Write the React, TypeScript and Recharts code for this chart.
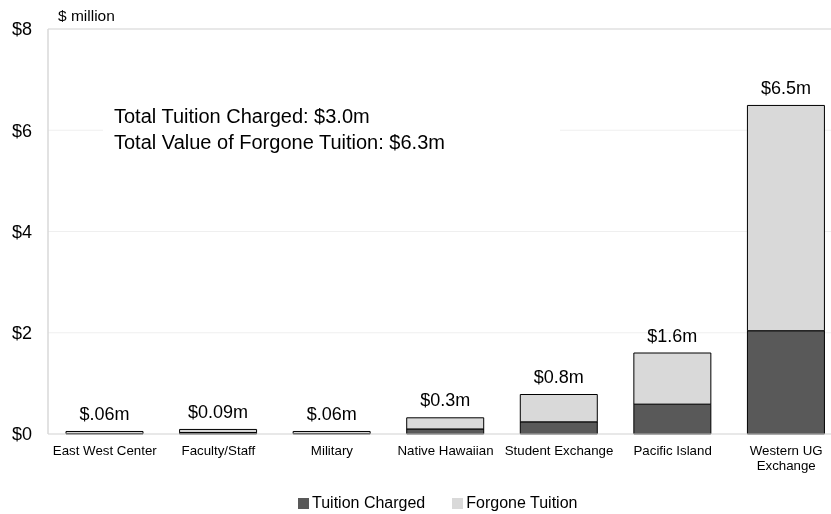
import React from 'react';
import {
  BarChart,
  Bar,
  XAxis,
  YAxis,
  CartesianGrid,
  Legend,
  LabelList,
  ReferenceLine,
  Customized,
  Text,
} from 'recharts';

const FONT = '"Liberation Sans", Arial, sans-serif';

const categories = [
  'East West Center',
  'Faculty/Staff',
  'Military',
  'Native Hawaiian',
  'Student Exchange',
  'Pacific Island',
  'Western UG Exchange',
];
const tuitionCharged = [0.01, 0.03, 0.01, 0.1, 0.24, 0.59, 2.04];
const forgoneTuition = [0.04, 0.06, 0.04, 0.22, 0.54, 1.01, 4.45];
const totalLabels = ['$.06m', '$0.09m', '$.06m', '$0.3m', '$0.8m', '$1.6m', '$6.5m'];
const yTicks = [0, 2, 4, 6, 8];
const noteLines = ['Total Tuition Charged: $3.0m', 'Total Value of Forgone Tuition: $6.3m'];

const DARK = '#595959';
const LIGHT = '#d9d9d9';

const data = categories.map((name, i) => ({
  name,
  charged: tuitionCharged[i],
  forgone: forgoneTuition[i],
  label: totalLabels[i],
}));

const XTick = (props: any) => {
  const { x, y, payload } = props;
  return (
    <Text
      x={x}
      y={y}
      width={122}
      textAnchor="middle"
      verticalAnchor="start"
      fontSize={13.3}
      lineHeight={15}
      fill="#000"
      fontFamily={FONT}
    >
      {payload.value}
    </Text>
  );
};

const TotalLabel = (props: any) => {
  const { x, y, width, value } = props;
  return (
    <text
      x={x + width / 2}
      y={y - 11.5}
      textAnchor="middle"
      fontSize={18}
      fill="#000"
      fontFamily={FONT}
    >
      {value}
    </text>
  );
};

const Note = () => (
  <g>
    <rect x={95} y={92} width={457} height={56} fill="#fff" />
    {noteLines.map((t, i) => (
      <text key={i} x={106} y={115 + i * 25.7} fontSize={20} fill="#000" fontFamily={FONT}>
        {t}
      </text>
    ))}
    <text x={50} y={13} fontSize={15.5} fill="#000" fontFamily={FONT}>
      $ million
    </text>
  </g>
);

const LegendBox = () => (
  <div
    style={{
      display: 'flex',
      alignItems: 'center',
      height: 20,
      fontFamily: FONT,
      fontSize: 16,
      color: '#000',
      whiteSpace: 'nowrap',
    }}
  >
    <span style={{ width: 11, height: 11, background: DARK, marginRight: 3 }} />
    <span>Tuition Charged</span>
    <span style={{ width: 11, height: 11, background: LIGHT, marginLeft: 27, marginRight: 3 }} />
    <span>Forgone Tuition</span>
  </div>
);

export default function App() {
  return (
    <div style={{ position: 'fixed', left: 0, top: 0, width: 831, height: 514, overflow: 'hidden' }}>
      <div style={{ position: 'absolute', left: 8, top: 8 }}>
        <BarChart
          width={840}
          height={506}
          data={data}
          margin={{ top: 21, right: 5, bottom: 40, left: 0 }}
          barSize={77}
        >
          <CartesianGrid vertical={false} stroke="#efefef" />
          <Customized component={Note} />
          <ReferenceLine y={8} stroke="#d9d9d9" />
          <XAxis
            dataKey="name"
            interval={0}
            height={40}
            tick={<XTick />}
            tickLine={false}
            tickSize={0}
            tickMargin={12}
            axisLine={{ stroke: '#d9d9d9' }}
          />
          <YAxis
            domain={[0, 8]}
            ticks={yTicks}
            width={40}
            tickFormatter={(v: number) => `$${v}`}
            tick={{ fontSize: 18, fill: '#000', fontFamily: FONT }}
            tickLine={false}
            tickSize={0}
            tickMargin={16}
            axisLine={{ stroke: '#d9d9d9', strokeWidth: 1.5 }}
          />
          <Legend
            layout="horizontal"
            verticalAlign="middle"
            align="center"
            content={<LegendBox />}
            wrapperStyle={{ top: 485, left: 290, width: 320, height: 20 }}
          />
          <Bar
            dataKey="charged"
            name="Tuition Charged"
            stackId="a"
            fill={DARK}
            stroke="#000"
            strokeWidth={1}
            isAnimationActive={false}
          />
          <Bar
            dataKey="forgone"
            name="Forgone Tuition"
            stackId="a"
            fill={LIGHT}
            stroke="#000"
            strokeWidth={1}
            isAnimationActive={false}
          >
            <LabelList dataKey="label" content={<TotalLabel />} />
          </Bar>
        </BarChart>
      </div>
    </div>
  );
}
